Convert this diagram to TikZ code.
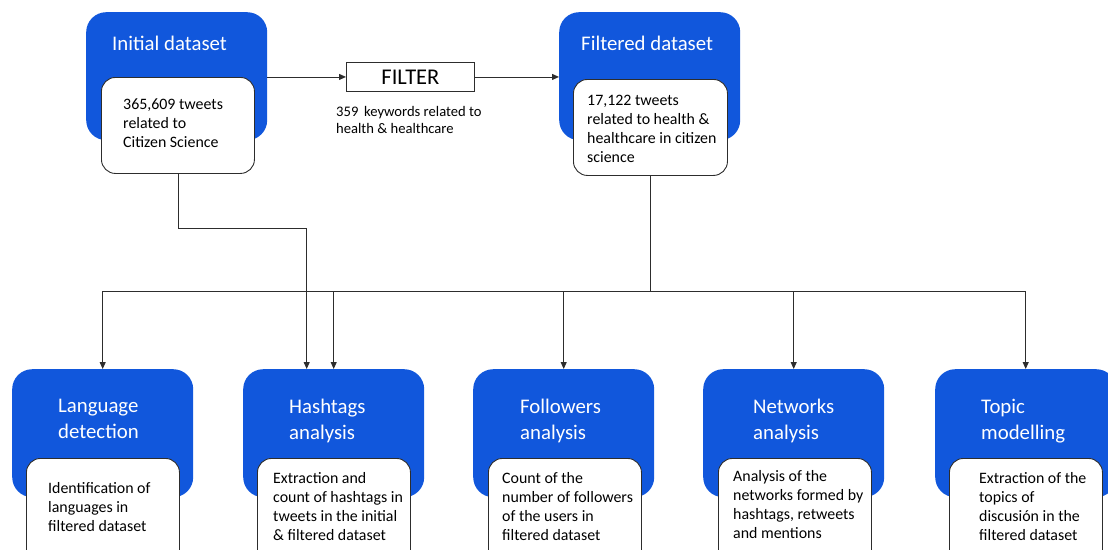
\documentclass[tikz,border=0pt]{standalone}
\usepackage{fontspec}
\setmainfont{Carlito}
\usetikzlibrary{arrows.meta}
\definecolor{boxblue}{RGB}{17,87,220}
\definecolor{linegray}{RGB}{45,45,45}
\begin{document}
\begin{tikzpicture}[x=1pt,y=-1pt,
 bluebox/.style={fill=boxblue, rounded corners=20pt, minimum width=181pt, minimum height=128pt, anchor=north west, inner sep=0},
 whitebox/.style={fill=white, draw=linegray, line width=0.9pt, rounded corners=14pt, minimum width=153pt, anchor=north west, inner sep=0},
 title/.style={text=white, font=\fontsize{20.8}{26}\selectfont, align=left, anchor=north west, inner sep=0},
 body/.style={text=black, font=\fontsize{15.9}{19}\selectfont, align=left, anchor=north west, inner sep=0},
 small/.style={text=black, font=\fontsize{14.6}{17}\selectfont, align=left, anchor=north west, inner sep=0},
 conn/.style={draw=linegray, line width=0.9pt},
 arr/.style={conn, -{Triangle[length=7pt,width=6pt]}}]
\useasboundingbox (0,0) rectangle (1108,549);
\begin{scope}
\clip (0,0) rectangle (1108,549);
% top row
\node[bluebox] (init) at (86,12) {};
\node[whitebox, minimum height=96pt] (initw) at (101,77) {};
\node[title] (initt) at (112,36) {Initial dataset};
\node[body] (initb) at (123,99) {365,609 tweets\\related to\\Citizen Science};

\node[draw=linegray, line width=0.9pt, minimum width=128pt, minimum height=29pt, anchor=north west, inner sep=0, font=\fontsize{22.5}{25}\selectfont] (filt) at (346,62) {FILTER};
\node[small] (kw) at (336,106) {359\, keywords related to\\health \& healthcare};

\node[bluebox] (fd) at (559,12) {};
\node[whitebox, minimum height=96pt, minimum width=154pt] (fdw) at (573,79) {};
\node[title] (fdt) at (581,36) {Filtered dataset};
\node[body] (fdb) at (587,95) {17,122 tweets\\related to health \&\\healthcare in citizen\\science};

% bottom row
\node[bluebox] (lang) at (12,369) {};
\node[bluebox] (hash) at (243,369) {};
\node[bluebox] (foll) at (473,369) {};
\node[bluebox] (net) at (703,369) {};
\node[bluebox] (topic) at (935,369) {};

\node[whitebox, minimum height=110pt] (langw) at (26,458) {};
\node[whitebox, minimum height=110pt] (hashw) at (257,458) {};
\node[whitebox, minimum height=110pt] (follw) at (488,458) {};
\node[whitebox, minimum height=110pt] (netw) at (718,458) {};
\node[whitebox, minimum height=110pt] (topicw) at (949,458) {};

\node[title] (langt) at (58,399) {Language\\detection};
\node[title] (hasht) at (289,399) {Hashtags\\analysis};
\node[title] (follt) at (520,399) {Followers\\analysis};
\node[title] (nett) at (753,399) {Networks\\analysis};
\node[title] (topict) at (981,399) {Topic\\modelling};

\node[body] (langb) at (48,482) {Identification of\\languages in\\filtered dataset};
\node[body] (hashb) at (273,472) {Extraction and\\count of hashtags in\\tweets in the initial\\\& filtered dataset};
\node[body] (follb) at (502,472) {Count of the\\number of followers\\of the users in\\filtered dataset};
\node[body] (netb) at (733,470) {Analysis of the\\networks formed by\\hashtags, retweets\\and mentions};
\node[body] (topicb) at (979,472) {Extraction of the\\topics of\\discusión in the\\filtered dataset};

% connectors
\draw[arr] (filt.west -| init.east) -- (filt.west);
\draw[arr] (filt.east) -- (filt.east -| fd.west);

\coordinate (hashin) at ([xshift=-27pt]hash.north);
\draw[arr] (initw.south) -- ++(0,55) -| (hashin);

\coordinate (bus) at (fdw.south |- 0,291);
\draw[conn] (fdw.south) -- (bus);
\draw[conn] (lang.north |- bus) -- (topic.north |- bus);
\foreach \n in {lang,hash,foll,net,topic}{
  \draw[arr] (\n.north |- bus) -- (\n.north);
}
\end{scope}
\end{tikzpicture}
\end{document}
